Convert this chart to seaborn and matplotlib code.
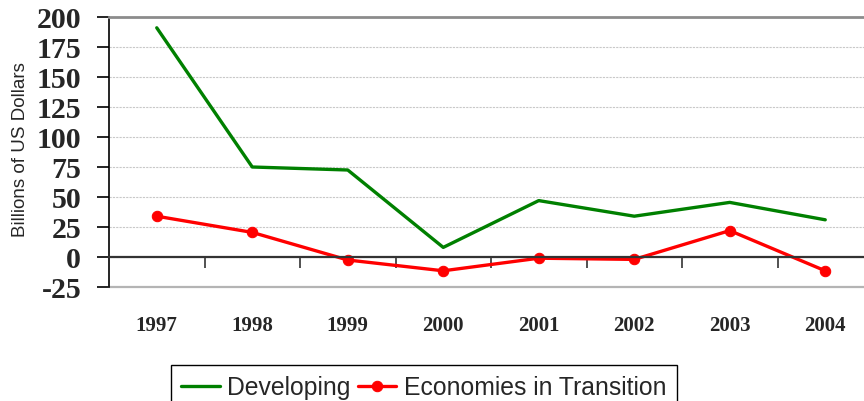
import numpy as np
import pandas as pd
import matplotlib
matplotlib.use("Agg")
import matplotlib.pyplot as plt
import seaborn as sns
from matplotlib.transforms import Bbox, TransformedBbox
from matplotlib.ticker import FixedLocator

years = ["1997", "1998", "1999", "2000", "2001", "2002", "2003", "2004"]
developing = [191, 75, 72.5, 8, 47, 34, 45.5, 31]
transition = [34, 20.5, -2.5, -11.5, -1, -2, 22, -11.5]
y_ticks = [-25, 0, 25, 50, 75, 100, 125, 150, 175, 200]

sns.set_style("white")
plt.rcParams["font.family"] = ["Liberation Sans", "DejaVu Sans"]

fig = plt.figure(figsize=(8.64, 4.02), dpi=100)
ax = fig.add_axes([109 / 864, 114 / 402, 764 / 864, 270 / 402])

df = pd.DataFrame({"Year": years, "Developing": developing,
                   "Economies in Transition": transition})

sns.lineplot(data=df, x="Year", y="Developing", ax=ax, color="#008000",
             lw=2.4, label="Developing", sort=False)
sns.lineplot(data=df, x="Year", y="Economies in Transition", ax=ax,
             color="#ff0000", lw=2.4, marker="o", markersize=7.5,
             mec="#ff0000", mfc="#ff0000", label="Economies in Transition",
             sort=False)

ax.set_xlim(-0.5, len(years) - 0.5)
ax.set_ylim(-25, 200)

# grid
ax.yaxis.grid(True, linestyle=(0, (2, 1)), color="#c8c8c8", lw=0.8)
ax.xaxis.grid(False)
ax.set_axisbelow(True)

# spines
ax.spines["bottom"].set_position(("data", 0))
ax.spines["bottom"].set_color("#333333")
ax.spines["bottom"].set_linewidth(1.6)
ax.spines["top"].set_color("#8c8c8c")
ax.spines["top"].set_linewidth(2.0)
ax.spines["right"].set_visible(False)
ax.spines["left"].set_color("black")
ax.spines["left"].set_linewidth(1.2)
ax.axhline(-25, color="#b4b4b4", lw=1.6, clip_on=False, zorder=1)

# x ticks
ax.set_xticks(range(len(years)), labels=years, fontfamily="Liberation Serif",
              fontweight="bold", fontsize=15)
ax.xaxis.set_minor_locator(FixedLocator(np.arange(0.5, len(years) - 0.5, 1)))
ax.tick_params(axis="x", which="major", bottom=True, length=0, pad=42)
ax.tick_params(axis="x", which="minor", bottom=True, length=8, width=1.2,
               direction="out", color="#333333")

# y ticks
ax.set_yticks(y_ticks, labels=[str(v) for v in y_ticks],
              fontfamily="Liberation Serif", fontweight="bold", fontsize=21.5)
ax.tick_params(axis="y", left=True, length=9, width=1.2, direction="out",
               pad=11, color="black")

ax.set_xlabel("")
ax.set_ylabel("Billions of US Dollars", fontsize=13.5,
              fontfamily="Liberation Sans")
ax.yaxis.set_label_coords(-0.105, 0.512)
lbl = ax.yaxis.label
lbl.set_clip_box(TransformedBbox(Bbox([[0, 0], [1, (402 - 63) / 402]]),
                                 fig.transFigure))
lbl.set_clip_on(True)

leg = ax.legend(loc="upper left", bbox_to_anchor=(171 / 864, 1 - 366 / 402),
                bbox_transform=fig.transFigure, ncol=2, frameon=True,
                fancybox=False, edgecolor="black", fontsize=17.8,
                handlelength=1.55, handletextpad=0.3, columnspacing=0.3,
                borderpad=0.42, borderaxespad=0)
leg.get_frame().set_linewidth(1.0)
leg.get_frame().set_alpha(None)
leg.get_frame().set_facecolor("white")

fig.savefig("out.png", dpi=100)
